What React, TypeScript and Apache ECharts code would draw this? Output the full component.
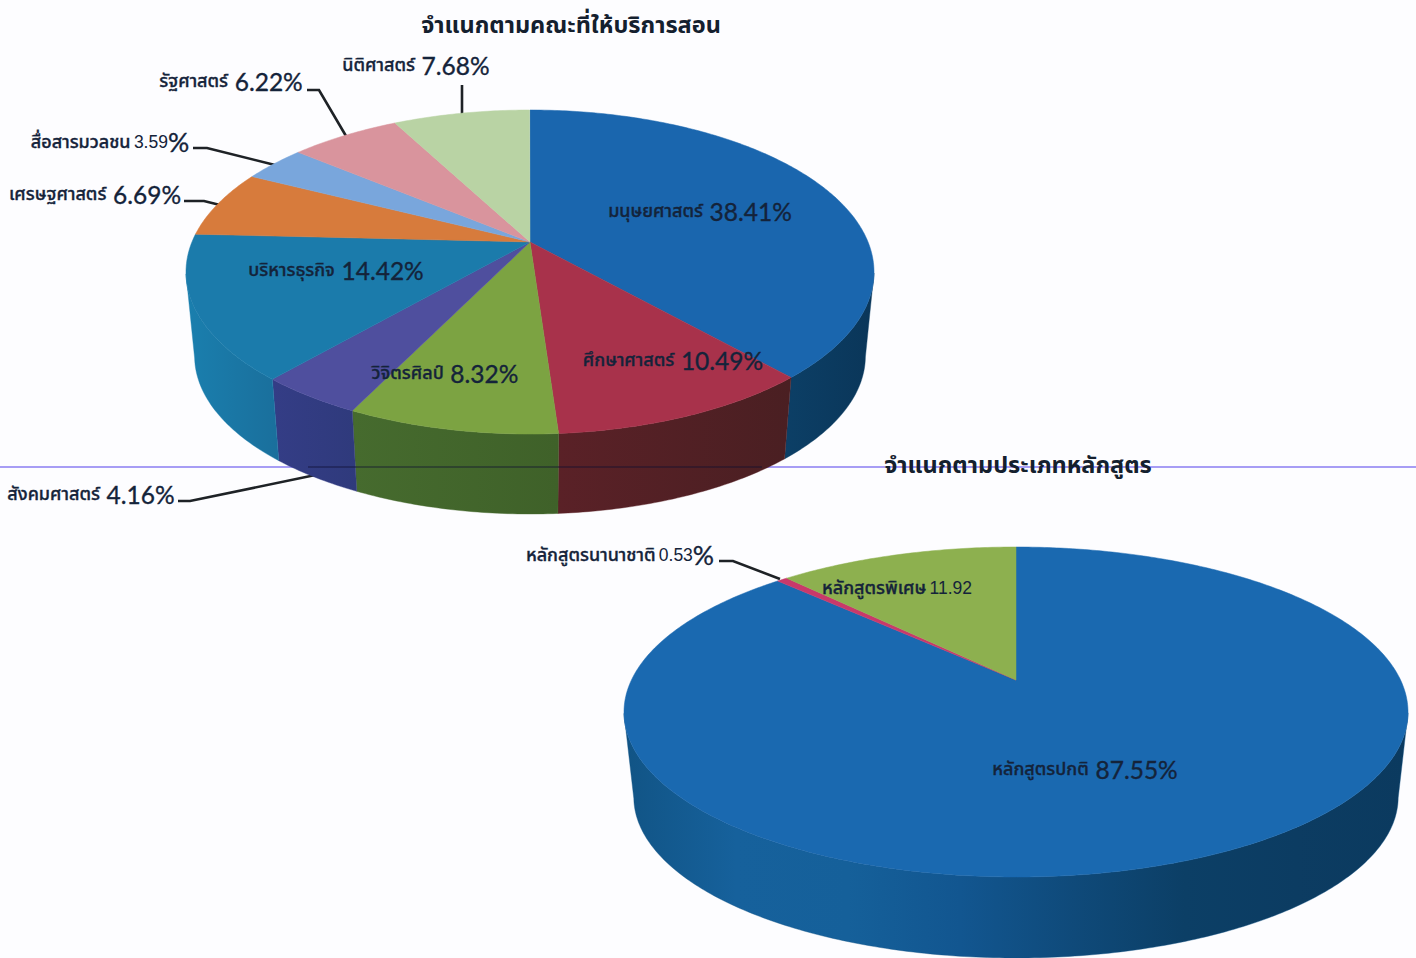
import React, { useEffect, useRef } from "react";
import * as echarts from "echarts";

// ---------- data ----------
const facultyNames = ["มนุษยศาสตร์", "ศึกษาศาสตร์", "วิจิตรศิลป์", "สังคมศาสตร์", "บริหารธุรกิจ", "เศรษฐศาสตร์", "สื่อสารมวลชน", "รัฐศาสตร์", "นิติศาสตร์"];
const facultyValues = [38.41, 10.49, 8.32, 4.16, 14.42, 6.69, 3.59, 6.22, 7.68];
const programNames = ["หลักสูตรปกติ", "หลักสูตรนานาชาติ", "หลักสูตรพิเศษ"];
const programValues = [87.55, 0.53, 11.92];
const titleFaculty = "จำแนกตามคณะที่ให้บริการสอน";
const titleProgram = "จำแนกตามประเภทหลักสูตร";

// ---------- styles ----------
const facultyTop = ["#1a66ae", "#a8324b", "#7ca342", "#4f4f9e", "#1b7bab", "#d77b3c", "#79a6dc", "#d9949d", "#b9d3a4"];
const facultyWall = [
  ["#0c3f66", "#0a3659"],
  ["#5a2127", "#4a1f22"],
  ["#466b2e", "#3f6129"],
  ["#343d86", "#2f3a7c"],
  ["#1a7fae", "#1a6f9c"],
  ["#888", "#888"], ["#888", "#888"], ["#888", "#888"], ["#888", "#888"],
];
const programTop = ["#1a69b0", "#c9396a", "#8db04f"];
const programWall = [
  ["#115485", "#16619c", "#15609a", "#125690", "#0f4a7a", "#0c3f66", "#0c3c62", "#0b3a5f"],
  ["#888", "#888"], ["#888", "#888"],
];
const pieFaculty = { cx: 530, cy: 272, rx: 344, ry: 162, apexY: 242, depth: 80, taper: 0.975 };
const pieProgram = { cx: 1016, cy: 712, rx: 392, ry: 165, apexY: 680, depth: 81, taper: 0.975 };

const FONT = "'Noto Sans Thai', 'Noto Sans', 'DejaVu Sans', sans-serif";
const NUM = "Lato, 'Open Sans', sans-serif";
const INK = "#14233a";

function makeRenderer(values: number[], tops: string[], walls: string[][], p: any) {
  const total = 100;
  const d = (p.cy - p.apexY) / p.ry;
  const k = Math.sqrt(1 - d * d);
  const rim = (frac: number) => {
    const a = frac * 2 * Math.PI;
    const x = Math.sin(a), y = -Math.cos(a);
    const den = 1 - d * y;
    return { nx: (x * k) / den, ny: (y - d) / den };
  };
  const toPx = (q: any) => [p.cx + q.nx * p.rx, p.cy + q.ny * p.ry];
  const drop = p.depth + p.ry * (1 - p.taper);
  const toLow = (q: any) => [p.cx + q.nx * p.rx * p.taper, p.cy + q.ny * p.ry * p.taper + drop];
  return (params: any, api: any) => {
    const i = params.dataIndex;
    const start = values.slice(0, i).reduce((s, v) => s + v, 0) / total;
    const span = (api.value(0) as number) / total;
    const steps = Math.max(4, Math.ceil(span * 500));
    const arc: any[] = [];
    for (let s = 0; s <= steps; s++) arc.push(rim(start + (span * s) / steps));
    const children: any[] = [];
    const visible = arc.filter((q) => q.ny >= 0);
    if (visible.length > 1) {
      const pts = visible.map(toPx).concat(visible.slice().reverse().map(toLow));
      const stops = walls[i].map((c, n) => ({ offset: n / (walls[i].length - 1), color: c }));
      children.push({
        type: "polygon",
        shape: { points: pts },
        style: { fill: new echarts.graphic.LinearGradient(0, 0, 1, 0, stops), stroke: walls[i][0], lineWidth: 0.4 },
      });
    }
    children.push({
      type: "polygon",
      shape: { points: [[p.cx, p.apexY], ...arc.map(toPx)] },
      style: { fill: tops[i], stroke: tops[i], lineWidth: 0.5 },
    });
    return { type: "group", children };
  };
}

function label(name: string, value: number, cx: number, y: number, kind = "big") {
  const num = String(value);
  let text: string;
  if (kind === "big") text = `{t|${name}}  {n|${num}%}`;
  else if (kind === "small") text = `{t|${name}} {s|${num}}{p|%}`;
  else text = `{t|${name}} {s|${num}}`;
  const heavy = { stroke: INK, lineWidth: 0.35 };
  return {
    type: "text",
    x: cx,
    y,
    z: 30,
    style: {
      text,
      align: "center",
      verticalAlign: "middle",
      fill: INK,
      rich: {
        t: { fontFamily: FONT, fontSize: 18, fill: INK, fontWeight: 500, ...heavy },
        n: { fontFamily: NUM, fontSize: 24.5, fill: INK, ...heavy },
        s: { fontFamily: "'Liberation Sans', Arial, sans-serif", fontSize: 17.5, fill: INK },
        p: { fontFamily: NUM, fontSize: 26.5, fill: INK, ...heavy },
      },
    },
  };
}

function leader(points: number[][]) {
  return {
    type: "polyline",
    z: 3,
    shape: { points },
    style: { stroke: "#1e2226", lineWidth: 2.6, fill: "none" },
  };
}

function title(text: string, cx: number, y: number) {
  return {
    type: "text",
    x: cx,
    y,
    z: 30,
    style: { text, align: "center", verticalAlign: "middle", fontFamily: FONT, fontWeight: "bold", fontSize: 23.5, fill: "#14202e" },
  };
}

export default function App() {
  const ref = useRef<HTMLDivElement>(null);
  useEffect(() => {
    document.body.style.margin = "0";
    const chart = echarts.init(ref.current!, undefined, { renderer: "svg" });
    chart.setOption({
      animation: false,
      backgroundColor: "#fdfdff",
      series: [
        {
          type: "custom",
          coordinateSystem: "none",
          z: 5,
          data: facultyValues.map((v) => [v]),
          renderItem: makeRenderer(facultyValues, facultyTop, facultyWall, pieFaculty),
        },
        {
          type: "custom",
          coordinateSystem: "none",
          z: 5,
          data: programValues.map((v) => [v]),
          renderItem: makeRenderer(programValues, programTop, programWall, pieProgram),
        },
      ],
      graphic: {
        elements: [
          { type: "line", z: 1, silent: true, shape: { x1: 0, y1: 467, x2: 1416, y2: 467 }, style: { stroke: "#a79df5", lineWidth: 2 } },
          { type: "line", z: 20, shape: { x1: 308, y1: 467, x2: 762, y2: 467 }, style: { stroke: "rgba(15,15,50,0.75)", lineWidth: 1.2 } },
          title(titleFaculty, 571, 26),
          title(titleProgram, 1018, 466),
          leader([[462, 85], [462, 115]]),
          leader([[307, 90], [319, 90], [346, 136]]),
          leader([[193, 148], [207, 148], [275, 165]]),
          leader([[184, 201], [204, 201], [220, 205]]),
          leader([[178, 501], [190, 501], [325, 473]]),
          leader([[719, 561], [733, 561], [780, 579]]),
          label(facultyNames[0], facultyValues[0], 700, 211),
          label(facultyNames[1], facultyValues[1], 673, 360),
          label(facultyNames[2], facultyValues[2], 445, 373),
          label(facultyNames[3], facultyValues[3], 91, 494),
          label(facultyNames[4], facultyValues[4], 336, 270),
          label(facultyNames[5], facultyValues[5], 95, 194),
          label(facultyNames[6], facultyValues[6], 110, 142, "small"),
          label(facultyNames[7], facultyValues[7], 231, 81),
          label(facultyNames[8], facultyValues[8], 416, 65),
          label(programNames[0], programValues[0], 1085, 769),
          label(programNames[1], programValues[1], 620, 555, "small"),
          label(programNames[2], programValues[2], 897, 588, "plain"),
        ],
      },
    });
    return () => chart.dispose();
  }, []);
  return <div ref={ref} style={{ position: "absolute", left: 0, top: 0, width: 1416, height: 958 }} />;
}
